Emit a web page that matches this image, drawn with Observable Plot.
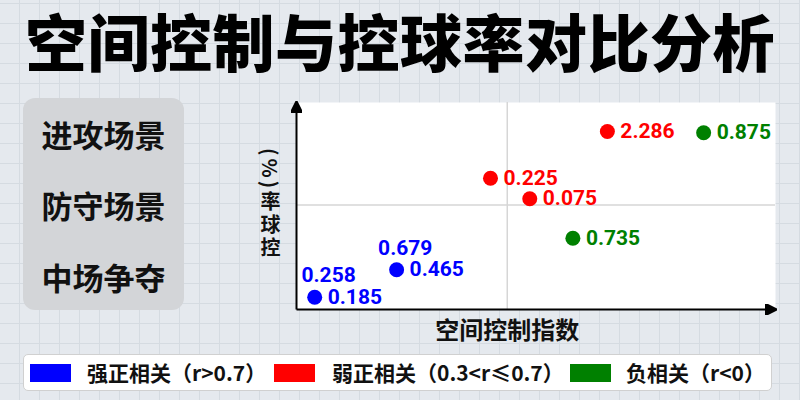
<!DOCTYPE html>
<html>
<head>
<meta charset="utf-8">
<script src="https://cdn.jsdelivr.net/npm/d3@7"></script>
<script src="https://cdn.jsdelivr.net/npm/@observablehq/plot@0.6"></script>
<style>
html, body { margin: 0; padding: 0; }
body {
  width: 800px; height: 400px; overflow: hidden; position: relative;
  font-family: "Noto Sans CJK SC", "Noto Sans", sans-serif;
  background-color: #e5e9ee;
  background-image:
    linear-gradient(to right, #d5dbe1 1px, transparent 1px),
    linear-gradient(to bottom, #d5dbe1 1px, transparent 1px);
  background-size: 20px 20px;
  background-position: 19px 3px;
}
#title {
  position: absolute; left: 0; top: 9px; width: 800px; text-align: center;
  font-size: 62px; font-weight: 900; line-height: 1; color: #000; white-space: nowrap;
}
#title span { letter-spacing: 0.5px; }
#panel {
  position: absolute; left: 23px; top: 98px; width: 161px; height: 212px;
  background: #d3d5d8; border-radius: 12px;
}
.scene {
  position: absolute; left: 0; width: 161px; text-align: center;
  font-size: 31px; font-weight: 700; line-height: 1; color: #111;
}
#ytitle {
  position: absolute; left: 260px; top: 148px; writing-mode: vertical-rl;
  font-size: 20px; font-weight: 700; letter-spacing: 3px; line-height: 1; color: #111;
}
#chart { position: absolute; left: 240px; top: 80px; }
#legend {
  position: absolute; left: 23px; top: 354px; width: 749px; height: 37px;
  background: #fff; border: 1px solid #d0d0d0; border-radius: 5px; box-sizing: border-box;
}
.sw { position: absolute; top: 9px; width: 41px; height: 18px; }
.lt { position: absolute; top: 7px; font-size: 21px; font-weight: 700; color: #111; white-space: nowrap; line-height: 1; }
</style>
</head>
<body>
<div id="title"><span></span></div>
<div id="panel"></div>
<div id="ytitle"></div>
<div id="chart"></div>
<div id="legend"></div>
<script>
// ---- data ----
const titleText = "空间控制与控球率对比分析";
const scenes = ["进攻场景", "防守场景", "中场争夺"];
const xTitle = "空间控制指数";
const yTitle = "(%)率球控";

const groups = ["strong", "weak", "negative"];
const groupNames = ["强正相关（r>0.7）", "弱正相关（0.3<r≤0.7）", "负相关（r<0）"];
const groupColors = ["#0000ff", "#ff0000", "#008000"];

const pointX = [3.8, 20.9, 40.5, 48.7, 64.9, 57.7, 85.0];
const pointY = [5.9, 19.2, 63.4, 53.5, 86.0, 34.4, 85.4];
const pointLabel = ["0.185", "0.465", "0.225", "0.075", "2.286", "0.735", "0.875"];
const pointGroup = ["strong", "strong", "weak", "weak", "weak", "negative", "negative"];

const extraX = [6.7, 22.7];
const extraY = [16.4, 29.5];
const extraLabel = ["0.258", "0.679"];
const extraGroup = ["strong", "strong"];

const xDomain = [0, 100];
const yDomain = [0, 100];
const midX = [44];
const midY = [50.5];

// ---- html parts ----
document.querySelector("#title span").textContent = titleText;
const panel = document.getElementById("panel");
const sceneTops = [19.5, 90.5, 162.5];
scenes.forEach((s, i) => {
  const d = document.createElement("div");
  d.className = "scene";
  d.style.top = sceneTops[i] + "px";
  d.textContent = s;
  panel.appendChild(d);
});
document.getElementById("ytitle").textContent = yTitle;
const legend = document.getElementById("legend");
const swLeft = [6, 250, 546];
const ltLeft = [63, 308, 602];
groupNames.forEach((n, i) => {
  const sw = document.createElement("div");
  sw.className = "sw";
  sw.style.left = swLeft[i] + "px";
  sw.style.background = groupColors[i];
  legend.appendChild(sw);
  const t = document.createElement("div");
  t.className = "lt";
  t.style.left = ltLeft[i] + "px";
  t.textContent = n;
  legend.appendChild(t);
});

// ---- plot ----
const points = pointX.map((x, i) => ({x, y: pointY[i], label: pointLabel[i], group: pointGroup[i]}));
const extras = extraX.map((x, i) => ({x, y: extraY[i], label: extraLabel[i], group: extraGroup[i]}));
const axes = [
  {x1: xDomain[0], y1: yDomain[0], x2: xDomain[1], y2: yDomain[0]},
  {x1: xDomain[0], y1: yDomain[0], x2: xDomain[0], y2: yDomain[1]}
];

function arrowMarker(color) {
  const m = d3.create("svg:marker")
    .attr("viewBox", "0 -5 10 10")
    .attr("refX", 9).attr("refY", 0)
    .attr("markerWidth", 12).attr("markerHeight", 11)
    .attr("markerUnits", "userSpaceOnUse")
    .attr("orient", "auto");
  m.append("path").attr("d", "M0,-5L10,0L0,5Z").attr("fill", color);
  return m.node();
}

const numFont = "Roboto, 'Noto Sans', sans-serif";
const chart = Plot.plot({
  width: 560, height: 280,
  marginLeft: 56, marginRight: 25, marginTop: 22, marginBottom: 51,
  x: {domain: xDomain, axis: null},
  y: {domain: yDomain, axis: null},
  color: {domain: groups, range: groupColors},
  style: {background: "transparent", overflow: "visible", fontFamily: numFont},
  marks: [
    Plot.frame({fill: "white", stroke: "none"}),
    Plot.ruleX(midX, {stroke: "#d6d6d6", strokeWidth: 1.5}),
    Plot.ruleY(midY, {stroke: "#d6d6d6", strokeWidth: 1.5}),
    Plot.link(axes, {x1: "x1", y1: "y1", x2: "x2", y2: "y2", stroke: "#000", strokeWidth: 2, markerEnd: arrowMarker}),
    Plot.dot(points, {x: "x", y: "y", r: 7.5, fill: "group"}),
    Plot.text(points, {x: "x", y: "y", text: "label", fill: "group", dx: 13, textAnchor: "start",
      fontSize: 21, fontWeight: "bold", fontFamily: numFont}),
    Plot.text(extras, {x: "x", y: "y", text: "label", fill: "group", textAnchor: "middle",
      fontSize: 21, fontWeight: "bold", fontFamily: numFont}),
    Plot.text([xTitle], {x: midX, text: d => d, frameAnchor: "bottom", dy: 29,
      fontSize: 24, fontWeight: "bold", fill: "#111", fontFamily: "'Noto Sans CJK SC', sans-serif"})
  ]
});
document.getElementById("chart").appendChild(chart);
</script>
</body>
</html>
